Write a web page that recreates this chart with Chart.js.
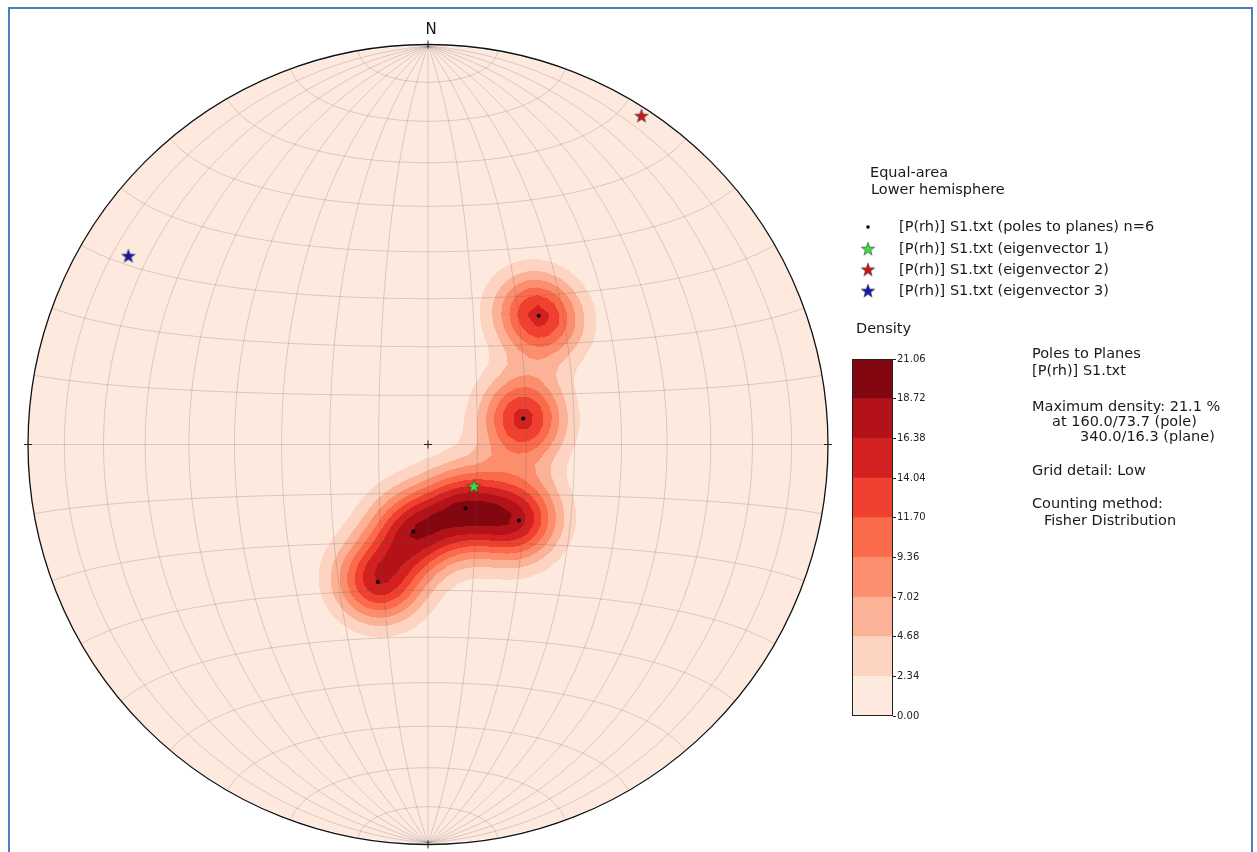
<!DOCTYPE html>
<html>
<head>
<meta charset="utf-8">
<script src="https://cdn.jsdelivr.net/npm/chart.js@4.4.1/dist/chart.umd.min.js"></script>
<style>
  body { margin: 0; background: #fff; font-family: "DejaVu Sans", sans-serif; color: #1a1a1a; }
  #page { position: relative; width: 1257px; height: 852px; overflow: hidden; }
  #frame { position: absolute; left: 8px; top: 7px; width: 1241px; height: 900px; border: 2px solid #4f7fbf; border-bottom: none; }
  canvas { position: absolute; }
  .t { position: absolute; font-size: 14.5px; line-height: 17px; white-space: pre; }
</style>
</head>
<body>
<div id="page">
  <div id="frame"></div>
  <canvas id="net" width="1257" height="852" style="left:0;top:0"></canvas>
  <canvas id="cbar" width="90" height="380" style="left:845px;top:349px"></canvas>

  <div class="t" style="left:421px;top:21px;width:20px;text-align:center;font-size:15px">N</div>

  <div class="t" style="left:870px;top:164px">Equal-area</div>
  <div class="t" style="left:871px;top:181px">Lower hemisphere</div>
  <div class="t lg" style="left:899px;top:218px"></div>
  <div class="t lg" style="left:899px;top:240px"></div>
  <div class="t lg" style="left:899px;top:261px"></div>
  <div class="t lg" style="left:899px;top:282px"></div>
  <div class="t" style="left:856px;top:320px">Density</div>

  <div class="t" style="left:1032px;top:345px">Poles to Planes</div>
  <div class="t" style="left:1032px;top:362px">[P(rh)] S1.txt</div>
  <div class="t" style="left:1032px;top:398px">Maximum density: 21.1 %</div>
  <div class="t" style="left:1052px;top:413px">at 160.0/73.7 (pole)</div>
  <div class="t" style="left:1080px;top:428px">340.0/16.3 (plane)</div>
  <div class="t" style="left:1032px;top:462px">Grid detail: Low</div>
  <div class="t" style="left:1032px;top:495px">Counting method:</div>
  <div class="t" style="left:1044px;top:512px">Fisher Distribution</div>
</div>
<script>
// poles to planes (trend / plunge, degrees)
const poleTrend = [40.6, 74.7, 149.6, 130.0, 189.6, 200.0];
const polePlunge = [55.0, 69.9, 74.9, 65.8, 72.0, 59.9];

// eigenvectors 1..3
const eigTrend = [132.3, 32.9, 302.3];
const eigPlunge = [77.4, 2.0, 12.4];
const eigColors = ["#3ee03e", "#cc1414", "#1414b8"];

const legendLabels = [
  "[P(rh)] S1.txt (poles to planes) n=6",
  "[P(rh)] S1.txt (eigenvector 1)",
  "[P(rh)] S1.txt (eigenvector 2)",
  "[P(rh)] S1.txt (eigenvector 3)",
];

// density contour levels (%) and their fill colours
const levels = [0, 2.34, 4.68, 7.02, 9.36, 11.70, 14.04, 16.38, 18.72, 21.06];
const levelColors = ["#fee9df", "#fdd4c2", "#fcb297", "#fc8e6e", "#fb6a4a",
                     "#f0402f", "#d32020", "#b21218", "#830711"];

const fisherK = 90;     // concentration of the counting kernel
const countScale = 90;  // % given by one pole at its own position, times n
const gridStep = 0.025; // counting grid spacing

Chart.defaults.font.family = "DejaVu Sans";

document.querySelectorAll(".lg").forEach((el, i) => { el.textContent = legendLabels[i]; });

const rad = Math.PI / 180;

// equal-area, lower hemisphere
function project(trend, plunge) {
  const r = Math.SQRT2 * Math.sin((90 - plunge) * rad / 2);
  return { x: r * Math.sin(trend * rad), y: r * Math.cos(trend * rad) };
}

function toVector(trend, plunge) {
  return [Math.cos(plunge * rad) * Math.sin(trend * rad),
          Math.cos(plunge * rad) * Math.cos(trend * rad),
          Math.sin(plunge * rad)];
}

const poleVectors = poleTrend.map((t, i) => toVector(t, polePlunge[i]));

function fisherDensity(X, Y) {
  let r = Math.hypot(X, Y);
  if (r > 1) { X /= r; Y /= r; r = 1; }
  const th = 2 * Math.asin(r / Math.SQRT2);
  const s = Math.sin(th);
  const e = r > 0 ? s * X / r : 0;
  const n = r > 0 ? s * Y / r : 0;
  const d = Math.cos(th);
  let sum = 0;
  for (const p of poleVectors) {
    const dot = Math.abs(e * p[0] + n * p[1] + d * p[2]);
    sum += Math.exp(fisherK * (dot - 1));
  }
  return countScale * sum / poleVectors.length;
}

// density on the counting grid
const nNodes = Math.round(2 / gridStep) + 1;
const nodeValues = new Float64Array(nNodes * nNodes);
for (let j = 0; j < nNodes; j++) {
  for (let i = 0; i < nNodes; i++) {
    nodeValues[j * nNodes + i] = fisherDensity(-1 + i * gridStep, -1 + j * gridStep);
  }
}

function sampleDensity(X, Y) {
  const fx = Math.min(Math.max((X + 1) / gridStep, 0), nNodes - 1.0001);
  const fy = Math.min(Math.max((Y + 1) / gridStep, 0), nNodes - 1.0001);
  const i0 = Math.floor(fx), j0 = Math.floor(fy);
  const tx = fx - i0, ty = fy - j0;
  const v00 = nodeValues[j0 * nNodes + i0], v10 = nodeValues[j0 * nNodes + i0 + 1];
  const v01 = nodeValues[(j0 + 1) * nNodes + i0], v11 = nodeValues[(j0 + 1) * nNodes + i0 + 1];
  return (v00 * (1 - tx) + v10 * tx) * (1 - ty) + (v01 * (1 - tx) + v11 * tx) * ty;
}

function hexToRgb(h) {
  return [parseInt(h.slice(1, 3), 16), parseInt(h.slice(3, 5), 16), parseInt(h.slice(5, 7), 16)];
}

function starImage(fill) {
  const c = document.createElement("canvas");
  c.width = 18; c.height = 18;
  const g = c.getContext("2d");
  g.beginPath();
  for (let i = 0; i < 10; i++) {
    const r = i % 2 ? 2.8 : 7;
    const a = -Math.PI / 2 + i * Math.PI / 5;
    g.lineTo(9 + r * Math.cos(a), 9.6 + r * Math.sin(a));
  }
  g.closePath();
  g.fillStyle = fill;
  g.fill();
  g.lineWidth = 0.6;
  g.strokeStyle = "#333";
  g.stroke();
  return c;
}
const stars = eigColors.map(starImage);

// point on a Schmidt net graticule (lam around N-S axis, phi towards N)
function netPoint(lam, phi) {
  const e = Math.cos(phi * rad) * Math.sin(lam * rad);
  const n = Math.sin(phi * rad);
  const d = Math.cos(phi * rad) * Math.cos(lam * rad);
  const h = Math.hypot(e, n);
  if (h < 1e-9) return { x: 0, y: 0 };
  const r = Math.SQRT2 * Math.sin(Math.acos(Math.max(-1, Math.min(1, d))) / 2);
  return { x: r * e / h, y: r * n / h };
}

let densityCanvas = null;

function buildDensity(chart) {
  const { chartArea: a, scales: { x, y } } = chart;
  const w = Math.round(a.right - a.left), h = Math.round(a.bottom - a.top);
  const off = document.createElement("canvas");
  off.width = w; off.height = h;
  const octx = off.getContext("2d");
  const img = octx.createImageData(w, h);
  const rgb = levelColors.map(hexToRgb);
  for (let j = 0; j < h; j++) {
    for (let i = 0; i < w; i++) {
      const X = x.getValueForPixel(a.left + i + 0.5);
      const Y = y.getValueForPixel(a.top + j + 0.5);
      if (X * X + Y * Y > 1) continue;
      const d = sampleDensity(X, Y);
      let k = 0;
      while (k < levelColors.length - 1 && d >= levels[k + 1]) k++;
      const c = rgb[k], o = (j * w + i) * 4;
      img.data[o] = c[0]; img.data[o + 1] = c[1]; img.data[o + 2] = c[2]; img.data[o + 3] = 255;
    }
  }
  octx.putImageData(img, 0, 0);
  return off;
}

const netPlugin = {
  id: "net",
  beforeDatasetsDraw(chart) {
    const { ctx, chartArea: a, scales: { x, y } } = chart;
    if (!densityCanvas) densityCanvas = buildDensity(chart);
    ctx.save();
    ctx.drawImage(densityCanvas, a.left, a.top);

    // graticule
    ctx.strokeStyle = "rgba(90,90,90,0.26)";
    ctx.lineWidth = 0.9;
    const line = (pts) => {
      ctx.beginPath();
      pts.forEach((p, i) => {
        const px = x.getPixelForValue(p.x), py = y.getPixelForValue(p.y);
        i ? ctx.lineTo(px, py) : ctx.moveTo(px, py);
      });
      ctx.stroke();
    };
    for (let lam = -80; lam <= 80; lam += 10) {
      const pts = [];
      for (let phi = -90; phi <= 90; phi += 1) pts.push(netPoint(lam, phi));
      line(pts);
    }
    for (let phi = -80; phi <= 80; phi += 10) {
      const pts = [];
      for (let lam = -90; lam <= 90; lam += 1) pts.push(netPoint(lam, phi));
      line(pts);
    }

    // primitive
    const cx = x.getPixelForValue(0), cy = y.getPixelForValue(0);
    const R = x.getPixelForValue(1) - cx;
    ctx.strokeStyle = "#111";
    ctx.lineWidth = 1.3;
    ctx.beginPath();
    ctx.arc(cx, cy, R, 0, 2 * Math.PI);
    ctx.stroke();

    // N/E/S/W ticks and centre cross
    ctx.lineWidth = 1;
    ctx.strokeStyle = "#222";
    ctx.beginPath();
    ctx.moveTo(cx, cy - R - 4); ctx.lineTo(cx, cy - R + 4);
    ctx.moveTo(cx, cy + R - 4); ctx.lineTo(cx, cy + R + 4);
    ctx.moveTo(cx - R - 4, cy); ctx.lineTo(cx - R + 4, cy);
    ctx.moveTo(cx + R - 4, cy); ctx.lineTo(cx + R + 4, cy);
    ctx.moveTo(cx - 4, cy); ctx.lineTo(cx + 4, cy);
    ctx.moveTo(cx, cy - 4); ctx.lineTo(cx, cy + 4);
    ctx.stroke();
    ctx.restore();
  },
  afterDraw(chart) {
    // legend markers
    const ctx = chart.ctx;
    const mx = 868, rows = [227, 248.7, 269.5, 290.7];
    ctx.save();
    ctx.fillStyle = "#000";
    ctx.beginPath();
    ctx.arc(mx, rows[0], 1.8, 0, 2 * Math.PI);
    ctx.fill();
    stars.forEach((s, i) => ctx.drawImage(s, mx - 9, rows[i + 1] - 9));
    ctx.restore();
  },
};

const datasets = [{
  label: legendLabels[0],
  data: poleTrend.map((t, i) => project(t, polePlunge[i])),
  pointRadius: 2,
  pointBackgroundColor: "#000",
  pointBorderWidth: 0,
}];
eigTrend.forEach((t, i) => {
  datasets.push({
    label: legendLabels[i + 1],
    data: [project(t, eigPlunge[i])],
    pointStyle: stars[i],
    pointRadius: 8,
  });
});

new Chart(document.getElementById("net"), {
  type: "scatter",
  data: { datasets: datasets },
  options: {
    responsive: false,
    animation: false,
    layout: { padding: { left: 28, top: 46, right: 429, bottom: 6 } },
    scales: {
      x: { type: "linear", min: -1, max: 1, display: false },
      y: { type: "linear", min: -1, max: 1, display: false },
    },
    plugins: { legend: { display: false }, tooltip: { enabled: false } },
  },
  plugins: [netPlugin],
});

// colour bar
const framePlugin = {
  id: "frame",
  afterDatasetsDraw(chart) {
    const { ctx, chartArea: a } = chart;
    ctx.save();
    ctx.strokeStyle = "#222";
    ctx.lineWidth = 1;
    ctx.strokeRect(a.left + 0.5, a.top + 0.5, a.right - a.left - 1, a.bottom - a.top - 1);
    ctx.restore();
  },
};

new Chart(document.getElementById("cbar"), {
  type: "bar",
  data: {
    labels: [""],
    datasets: levelColors.map((c, i) => ({
      data: [[levels[i], levels[i + 1]]],
      backgroundColor: c,
      borderWidth: 0,
      grouped: false,
      barPercentage: 1,
      categoryPercentage: 1,
    })),
  },
  options: {
    responsive: false,
    animation: false,
    layout: { padding: { left: 7, top: 10, right: 0, bottom: 13 } },
    scales: {
      x: { display: false },
      y: {
        position: "right",
        min: levels[0],
        max: levels[levels.length - 1],
        afterBuildTicks: (s) => { s.ticks = levels.map((v) => ({ value: v })); },
        afterFit: (s) => { s.width = 42; },
        ticks: {
          autoSkip: false,
          padding: 1,
          color: "#222",
          font: { size: 10 },
          callback: (v) => Number(v).toFixed(2),
        },
        grid: { drawOnChartArea: false, drawTicks: true, tickLength: 3, color: "#222" },
        border: { display: false },
      },
    },
    plugins: { legend: { display: false }, tooltip: { enabled: false } },
  },
  plugins: [framePlugin],
});
</script>
</body>
</html>
